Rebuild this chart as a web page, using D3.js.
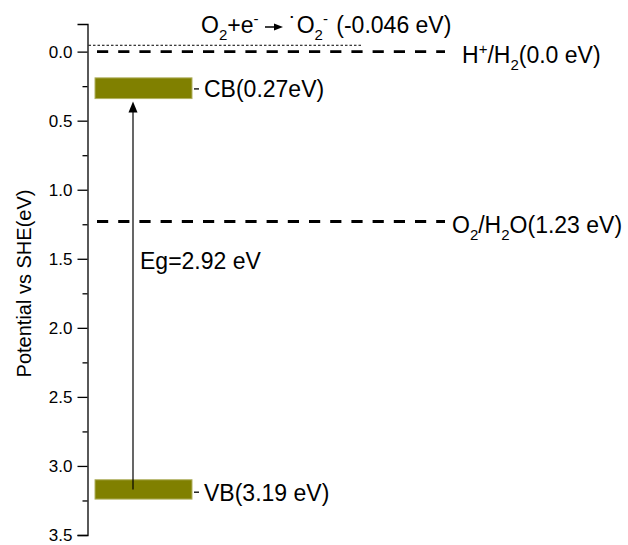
<!DOCTYPE html>
<html><head><meta charset="utf-8">
<script src="https://cdn.jsdelivr.net/npm/d3@7"></script>
<style>
html,body{margin:0;padding:0;background:#fff;}
svg text{font-family:"Liberation Sans",Arial,sans-serif;fill:#000;}
</style></head>
<body>
<svg id="chart" width="628" height="545"></svg>
<script>
// ---- data ----
const yDomain = [-0.2, 3.5];
const majorTicks = [0.0, 0.5, 1.0, 1.5, 2.0, 2.5, 3.0, 3.5];
const minorTicks = [0.25, 0.75, 1.25, 1.75, 2.25, 2.75, 3.25];
const axisTitle = "Potential vs SHE(eV)";
// band edges (eV) and label values
const bandNames = ["CB", "VB"];
const bandTop = [0.19, 3.10];
const bandBottom = [0.34, 3.24];
const bandLevel = [0.27, 3.19];
const bandLabels = ["CB(0.27eV)", "VB(3.19 eV)"];
// redox levels
const redoxNames = ["H+/H2", "O2/H2O"];
const redoxValues = [0.0, 1.23];
const superoxideValue = -0.046;
const gapLabel = "Eg=2.92 eV";

// ---- layout ----
const svg = d3.select("#chart");
const y = d3.scaleLinear().domain(yDomain).range([24, 535]);
const axisX = 87.5;
const barX0 = 95, barX1 = 192;
const lineX0 = 97, lineX1 = 445;
const arrowX = 133;

// axis
const gAxis = svg.append("g").attr("transform", `translate(${axisX},0)`);
gAxis.call(d3.axisLeft(y).tickValues(majorTicks).tickSize(10).tickPadding(5)
  .tickFormat(d3.format(".1f")));
gAxis.selectAll("text").style("font-size", "17px").attr("fill", "#000");
gAxis.selectAll("path,line").attr("stroke", "#000").attr("stroke-width", 1.3);
const gMinor = svg.append("g").attr("transform", `translate(${axisX},0)`);
gMinor.call(d3.axisLeft(y).tickValues(minorTicks).tickSize(5).tickFormat(""));
gMinor.select(".domain").remove();
gMinor.selectAll("line").attr("stroke", "#000").attr("stroke-width", 1.3);

// axis title
svg.append("text")
  .attr("transform", `translate(31,${(y.range()[0] + y.range()[1]) / 2 + 4}) rotate(-90)`)
  .attr("text-anchor", "middle").style("font-size", "20px").text(axisTitle);

// superoxide dotted line
svg.append("line").attr("x1", axisX + 1).attr("x2", 362)
  .attr("y1", y(superoxideValue)).attr("y2", y(superoxideValue))
  .attr("stroke", "#000").attr("stroke-width", 1).attr("stroke-dasharray", "2.5,2");

// redox dashed lines
svg.selectAll("line.redox").data(redoxValues).join("line").attr("class", "redox")
  .attr("x1", lineX0).attr("x2", lineX1)
  .attr("y1", d => y(d)).attr("y2", d => y(d))
  .attr("stroke", "#000").attr("stroke-width", 2.8).attr("stroke-dasharray", "11.2,10");

// labels with sub/superscripts
function subsup(sel, parts) {
  parts.forEach(p => {
    const t = sel.append("tspan").text(p.t);
    if (p.sub) t.style("font-size", "15px").attr("dy", 7);
    if (p.sup) t.style("font-size", "15px").attr("dy", -9);
    if (p.dy !== undefined) t.attr("dy", p.dy);
    if (p.dx !== undefined) t.attr("dx", p.dx);
  });
}
const lblH = svg.append("text").attr("x", 462).attr("y", y(redoxValues[0]) + 11).style("font-size", "23px");
subsup(lblH, [{t: "H"}, {t: "+", sup: true}, {t: "/H", dy: 9}, {t: "2", sub: true}, {t: "(0.0 eV)", dy: -7}]);
const lblO = svg.append("text").attr("x", 452).attr("y", y(redoxValues[1]) + 12).style("font-size", "23px");
subsup(lblO, [{t: "O"}, {t: "2", sub: true}, {t: "/H", dy: -7}, {t: "2", sub: true}, {t: "O(1.23 eV)", dy: -7}]);

// top reaction label
const topBase = 33;
const tl = svg.append("text").attr("x", 201).attr("y", topBase).style("font-size", "23px");
subsup(tl, [{t: "O"}, {t: "2", sub: true}, {t: "+e", dy: -7}, {t: "-", sup: true}]);
const arrowY = 27;
svg.append("line").attr("x1", 265).attr("x2", 276).attr("y1", arrowY).attr("y2", arrowY)
  .attr("stroke", "#000").attr("stroke-width", 1.5);
svg.append("path").attr("d", `M283,${arrowY} L274,${arrowY - 3.5} L274,${arrowY + 3.5} Z`).attr("fill", "#000");
const tr = svg.append("text").attr("x", 289).attr("y", topBase).style("font-size", "23px");
subsup(tr, [{t: "˙"}, {t: "O"}, {t: "2", sub: true}, {t: "-", sup: true, dy: -16, dx: 0}, {t: " (-0.046 eV)", dy: 9, dx: 2}]);

// bands
svg.selectAll("rect.band").data(bandNames).join("rect").attr("class", "band")
  .attr("x", barX0).attr("width", barX1 - barX0)
  .attr("y", (d, i) => y(bandTop[i]))
  .attr("height", (d, i) => y(bandBottom[i]) - y(bandTop[i]))
  .attr("fill", "#808000").attr("stroke", "#b0b060").attr("stroke-width", 1);

svg.selectAll("line.bandtick").data(bandLevel).join("line").attr("class", "bandtick")
  .attr("x1", barX1 + 2).attr("x2", barX1 + 7)
  .attr("y1", d => y(d)).attr("y2", d => y(d))
  .attr("stroke", "#000").attr("stroke-width", 1.3);
svg.selectAll("text.bandlabel").data(bandLabels).join("text").attr("class", "bandlabel")
  .attr("x", 204).attr("y", (d, i) => y(bandLevel[i]) + 8.5)
  .style("font-size", "23px").text(d => d);

// band-gap arrow
const vbMid = (bandTop[1] + bandBottom[1]) / 2;
const tipY = y(bandBottom[0]) + 3;
svg.append("line").attr("x1", arrowX).attr("x2", arrowX)
  .attr("y1", y(vbMid)).attr("y2", tipY + 8)
  .attr("stroke", "#000").attr("stroke-width", 1.2);
svg.append("path").attr("d", `M${arrowX},${tipY} L${arrowX - 4.5},${tipY + 11} L${arrowX + 4.5},${tipY + 11} Z`)
  .attr("fill", "#000");

svg.append("text").attr("x", 140).attr("y", 269).style("font-size", "23px").text(gapLabel);
</script>
</body></html>
